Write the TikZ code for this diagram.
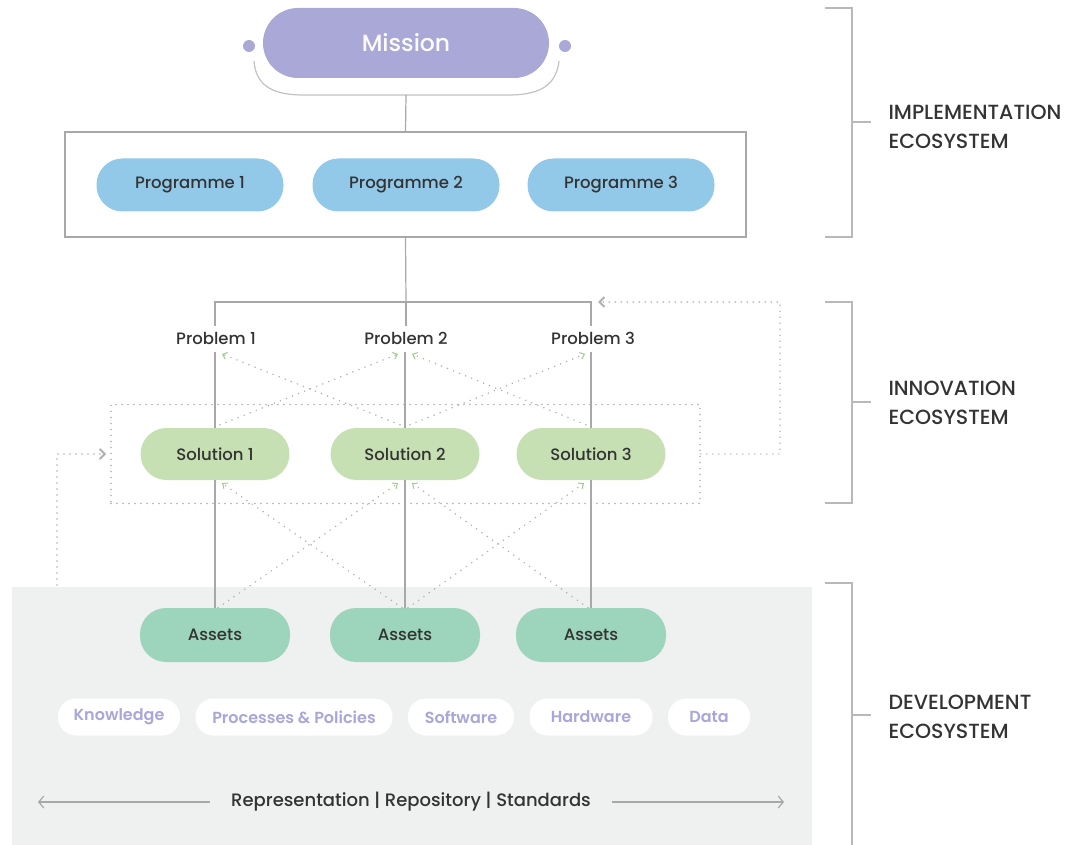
\documentclass[tikz,border=0pt]{standalone}
\usepackage{fontspec}
\setmainfont{Poppins}
\newfontfamily\medfont{Poppins}[UprightFont=*-Medium]
\newfontfamily\semifont{Poppins}[UprightFont=*-SemiBold]
\usetikzlibrary{arrows.meta,calc}
\definecolor{lav}{HTML}{A9A8D6}
\definecolor{lavtxt}{HTML}{A9A6D9}
\definecolor{progc}{HTML}{92C8E8}
\definecolor{solc}{HTML}{C6E0B4}
\definecolor{assc}{HTML}{9DD4BC}
\definecolor{bgc}{HTML}{EFF0F0}
\definecolor{linec}{HTML}{A8A8A8}
\definecolor{dotc}{HTML}{B0B0B0}
\definecolor{txtc}{HTML}{333333}
\definecolor{greentip}{HTML}{9CCB8A}
\tikzset{
  pill/.style={rectangle, rounded corners=26pt, inner sep=0pt, text=txtc, font=\medfont\fontsize{16.5}{20}\selectfont},
  progpill/.style={pill, fill=progc, minimum width=187pt, minimum height=53pt},
  solpill/.style={pill, fill=solc, minimum width=149pt, minimum height=52pt},
  asspill/.style={pill, fill=assc, minimum width=150pt, minimum height=54pt},
  tagpill/.style={rectangle, rounded corners=18pt, fill=white, inner sep=0pt, minimum height=37pt, text=lavtxt, font=\semifont\fontsize{16}{19}\selectfont},
  solid line/.style={draw=linec, line width=1.2pt},
  dotline/.style={draw=dotc, line width=1.7pt, line cap=round, dash pattern=on 0pt off 6pt},
  diagdot/.style={draw=dotc, line width=1.7pt, line cap=round, dash pattern=on 0pt off 6.5pt,
     -{Straight Barb[length=4pt,width=7pt,line width=1pt,color=greentip]}},
  chev/.style={-{Straight Barb[length=5pt,width=10pt,line width=2pt]}},
  labeltxt/.style={text=txtc, align=left, anchor=west, font=\medfont\fontsize{20.5}{29}\selectfont},
  probtxt/.style={text=txtc, inner sep=3pt, font=\medfont\fontsize{16.5}{20}\selectfont},
}
\begin{document}
\begin{tikzpicture}[x=1pt,y=-1pt]
\path[use as bounding box] (0,0) rectangle (1066,845);
% development background
\fill[bgc] (12,587) rectangle (812,845);
% Mission
\node[rectangle, rounded corners=35pt, fill=lav, minimum width=286pt, minimum height=70pt, inner sep=0pt,
      text=white!95!lav, font=\medfont\fontsize{23.5}{28}\selectfont] (mission) at (406,43) {Mission};
\fill[lav] (249,46) circle (6);
\fill[lav] (565,46) circle (6);
\draw[solid line, draw=linec!70] (254,61) .. controls (256,88) and (276,95) .. (304,95) -- (508,95)
     .. controls (536,95) and (556,88) .. (559,61);
\coordinate (mbase) at (406,95);
% Programme box
\node[draw=linec, line width=1.2pt, rectangle, minimum width=681pt, minimum height=105pt, inner sep=0pt] (progbox) at (405.5,184.5) {};
\draw[solid line] (mbase) -- (progbox.north);
\node[progpill] (pr1) at (190,185) {Programme 1};
\node[progpill] (pr2) at (406,185) {Programme 2};
\node[progpill] (pr3) at (621,185) {Programme 3};
% Problems
\node[probtxt] (p1) at (216,338) {Problem 1};
\node[probtxt] (p2) at (406,338) {Problem 2};
\node[probtxt] (p3) at (593,338) {Problem 3};
\coordinate (hub) at (406,302);
\draw[solid line] (progbox.south) -- (hub);
\draw[solid line] (215,326) -- (215,302) -- (591,302) -- (591,326);
\draw[solid line] (hub) -- (406,326);
% Solutions
\node[dotline, rectangle, minimum width=589pt, minimum height=99pt, inner sep=0pt] (solbox) at (405.5,454) {};
\node[solpill] (s1) at (215,454) {Solution 1};
\node[solpill] (s2) at (405,454) {Solution 2};
\node[solpill] (s3) at (591,454) {Solution 3};
\draw[solid line] (215,352) -- (s1.north);
\draw[solid line] (405,352) -- (s2.north);
\draw[solid line] (591,352) -- (s3.north);
% diagonal dotted between solutions and problems
\draw[diagdot] ($(s2.north)+(-5,-3)$) -- (222,354);
\draw[diagdot] ($(s1.north)+(5,-3)$) -- (398,354);
\draw[diagdot] ($(s3.north)+(-5,-3)$) -- (412,354);
\draw[diagdot] ($(s2.north)+(5,-3)$) -- (585,354);
% Assets
\node[asspill] (a1) at (215,635) {Assets};
\node[asspill] (a2) at (405,635) {Assets};
\node[asspill] (a3) at (591,635) {Assets};
\draw[solid line] (a1.north) -- (s1.south);
\draw[solid line] (a2.north) -- (s2.south);
\draw[solid line] (a3.north) -- (s3.south);
\draw[diagdot] ($(a1.north)+(3,0)$) -- ($(s2.south)+(-7,3)$);
\draw[diagdot] ($(a2.north)+(-3,0)$) -- ($(s1.south)+(7,3)$);
\draw[diagdot] ($(a2.north)+(3,0)$) -- ($(s3.south)+(-7,3)$);
\draw[diagdot] ($(a3.north)+(-3,0)$) -- ($(s2.south)+(7,3)$);
% feedback loops
\coordinate (loopR) at (780,302);
\draw[dotline, draw=dotc, chev, shorten >=1pt] (solbox.east) -| (loopR) -- (597,302);
\coordinate (loopL) at (57,585);
\draw[dotline, draw=dotc, chev, shorten >=4pt] (loopL) |- (solbox.west);
% tags
\node[tagpill, minimum width=122pt] (k) at (119,717) {Knowledge};
\node[tagpill, minimum width=197pt] (pp) at (294,717) {Processes \& Policies};
\node[tagpill, minimum width=106pt] (sw) at (461,717) {Software};
\node[tagpill, minimum width=123pt] (hw) at (591,717) {Hardware};
\node[tagpill, minimum width=82pt] (dt) at (709,717) {Data};
% representation
\node[text=txtc, font=\medfont\fontsize{18}{21}\selectfont, inner sep=0pt] (rep) at (411,802) {Representation | Repository | Standards};
\coordinate (repL) at (38,802);
\coordinate (repR) at (784,802);
\draw[draw=linec, line width=1.2pt, -{Straight Barb[length=5pt,width=12pt,line width=1.2pt]}] ([xshift=-21pt]rep.west) -- (repL);
\draw[draw=linec, line width=1.2pt, -{Straight Barb[length=5pt,width=12pt,line width=1.2pt]}] ([xshift=21pt]rep.east) -- (repR);
% brackets
\draw[solid line, draw=linec!80] (825,8) -- (852,8) -- (852,237) -- (825,237);
\draw[solid line, draw=linec!80] (852,122) -- (871,122);
\draw[solid line, draw=linec!80] (825,302) -- (852,302) -- (852,503) -- (825,503);
\draw[solid line, draw=linec!80] (852,402) -- (871,402);
\draw[solid line, draw=linec!80] (825,583) -- (852,583) -- (852,845);
\draw[solid line, draw=linec!80] (852,715) -- (871,715);
\node[labeltxt] (l1) at (885,127) {IMPLEMENTATION\\ECOSYSTEM};
\node[labeltxt] (l2) at (885,403) {INNOVATION\\ECOSYSTEM};
\node[labeltxt] (l3) at (885,717) {DEVELOPMENT\\ECOSYSTEM};
\end{tikzpicture}
\end{document}
